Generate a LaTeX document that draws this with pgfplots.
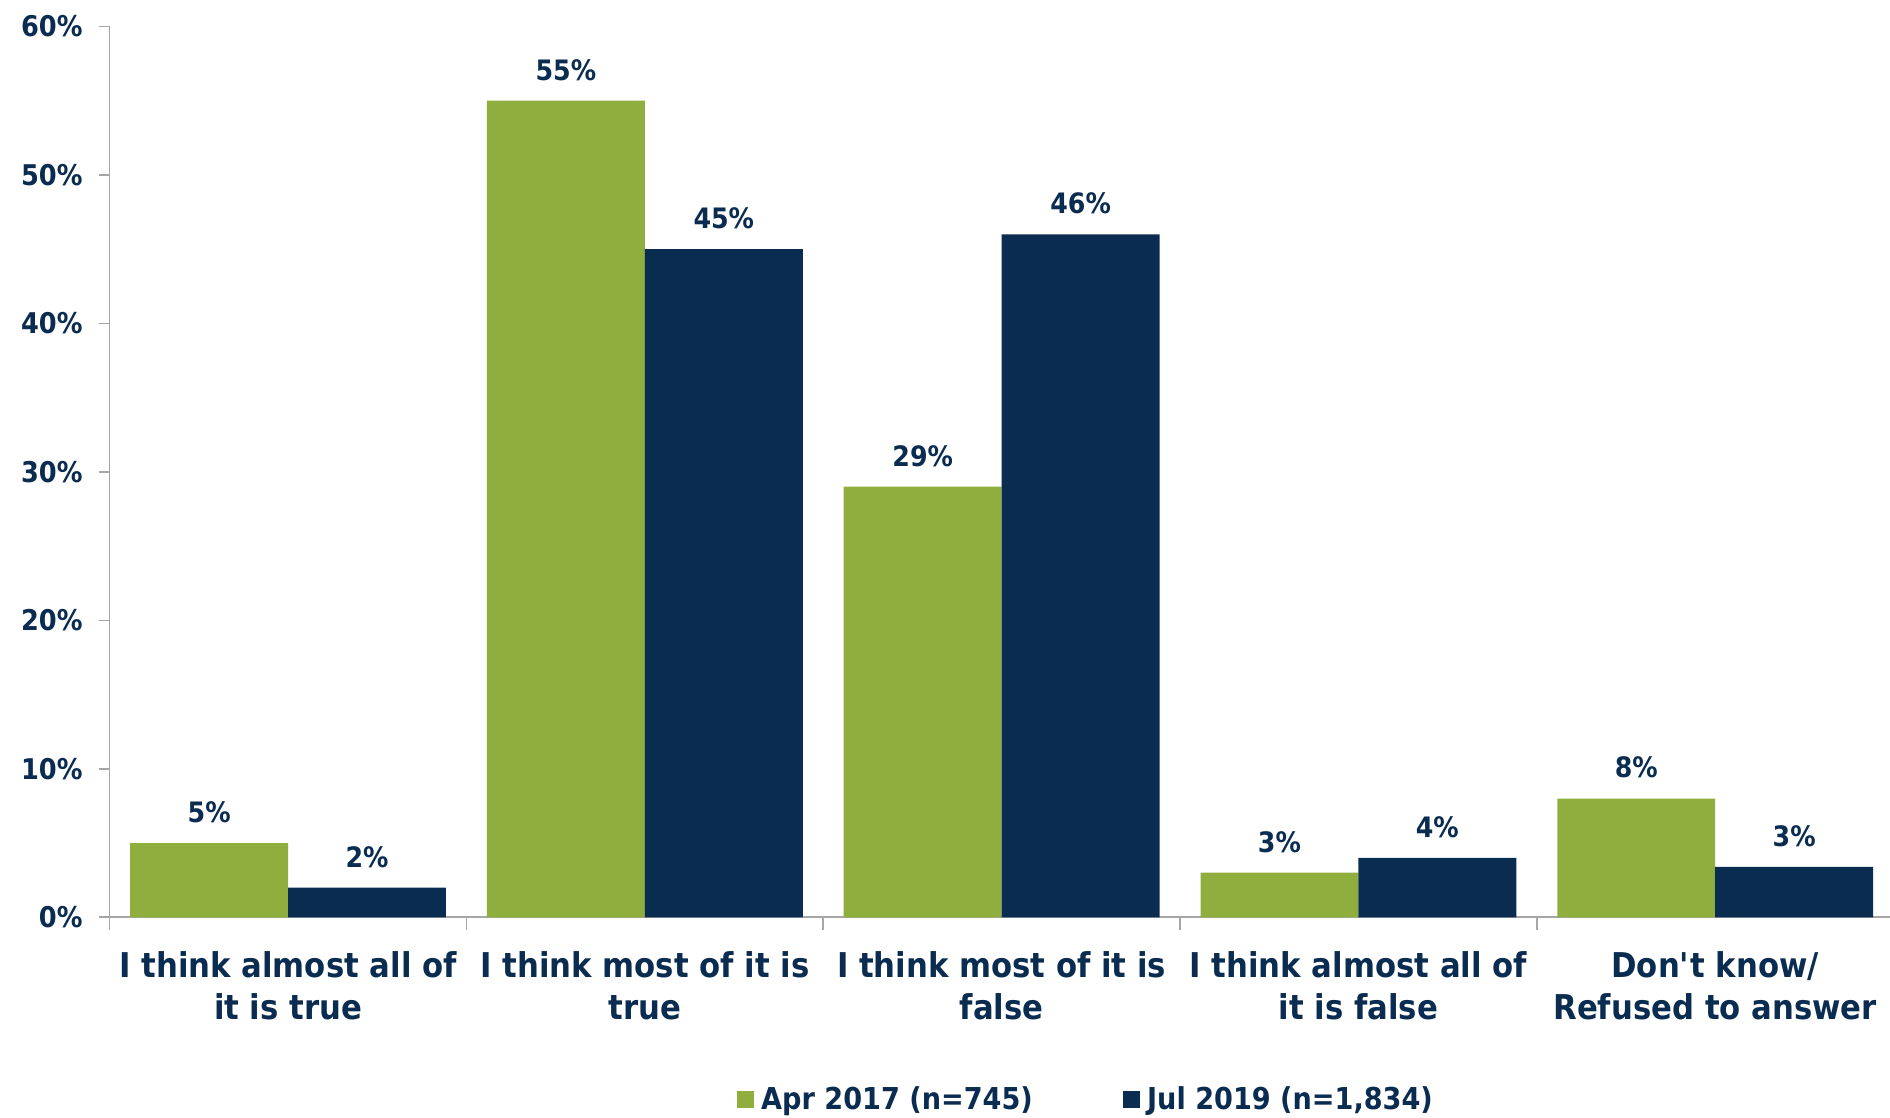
\documentclass[border=0pt]{standalone}
\usepackage{fontspec}
\setmainfont{DejaVu Sans}[FakeStretch=0.9]
\usepackage{pgfplots}
\pgfplotsset{compat=1.18}
\definecolor{cgreen}{HTML}{8FAE3E}
\definecolor{cnavy}{HTML}{0A2C51}
\definecolor{caxis}{HTML}{A6A6A6}
\begin{document}
\begin{tikzpicture}
\useasboundingbox (-54.6pt,-99.6pt) rectangle (886.2pt,456.6pt);
\begin{axis}[
  scale only axis, width=886.2pt, height=443.4pt,
  xmin=-0.5, xmax=4.49, ymin=0, ymax=60,
  axis x line*=bottom, axis y line*=left,
  axis line style={caxis, line width=0.8pt},
  tick align=outside,
  major tick length=5.5pt, minor tick length=6.5pt,
  tick style={caxis, line width=0.8pt},
  major x tick style={draw=none},
  ybar=0pt, bar width=78.6pt,
  xtick={0,1,2,3,4},
  minor xtick={-0.5,0.5,1.5,2.5,3.5},
  xticklabels={I think almost all of\\it is true, I think most of it is\\true, I think most of it is\\false, I think almost all of\\it is false, Don\textquotesingle t know/\\Refused to answer},
  ytick={0,10,20,30,40,50,60},
  yticklabels={0\%,10\%,20\%,30\%,40\%,50\%,60\%},
  yticklabel style={text=cnavy, font=\fontsize{14.2}{16}\selectfont\bfseries, xshift=-4.5pt},
  xticklabel style={text=cnavy, font=\fontsize{17}{21}\selectfont\bfseries, align=center, yshift=-8pt},
  nodes near coords={\pgfmathprintnumber[fixed,precision=0,assume math mode=true]{\pgfplotspointmeta}\%},
  nodes near coords style={text=cnavy, font=\fontsize{14}{16}\selectfont\bfseries, anchor=south, yshift=6.5pt},
  legend columns=2,
  legend style={draw=none, at={(0.549,-0.2043)}, anchor=center,
    font=\fontsize{15}{18}\selectfont\bfseries, text=cnavy,
    /tikz/every even column/.append style={column sep=43pt},
    /tikz/every odd column/.append style={column sep=0pt}},
]
\addplot[fill=cgreen, draw=none, legend image code/.code={\fill[cgreen] (0pt,-4.2pt) rectangle (8.4pt,4.2pt);}]
  coordinates {(0,5) (1,55) (2,29) (3,3) (4,8)};
\addlegendentry{\hspace{1.5pt}Apr 2017 (n=745)}
\addplot[fill=cnavy, draw=none, legend image code/.code={\fill[cnavy] (0pt,-4.2pt) rectangle (8.4pt,4.2pt);}]
  coordinates {(0,2) (1,45) (2,46) (3,4) (4,3.4)};
\addlegendentry{\hspace{1.5pt}Jul 2019 (n=1,834)}
\end{axis}
\end{tikzpicture}
\end{document}
